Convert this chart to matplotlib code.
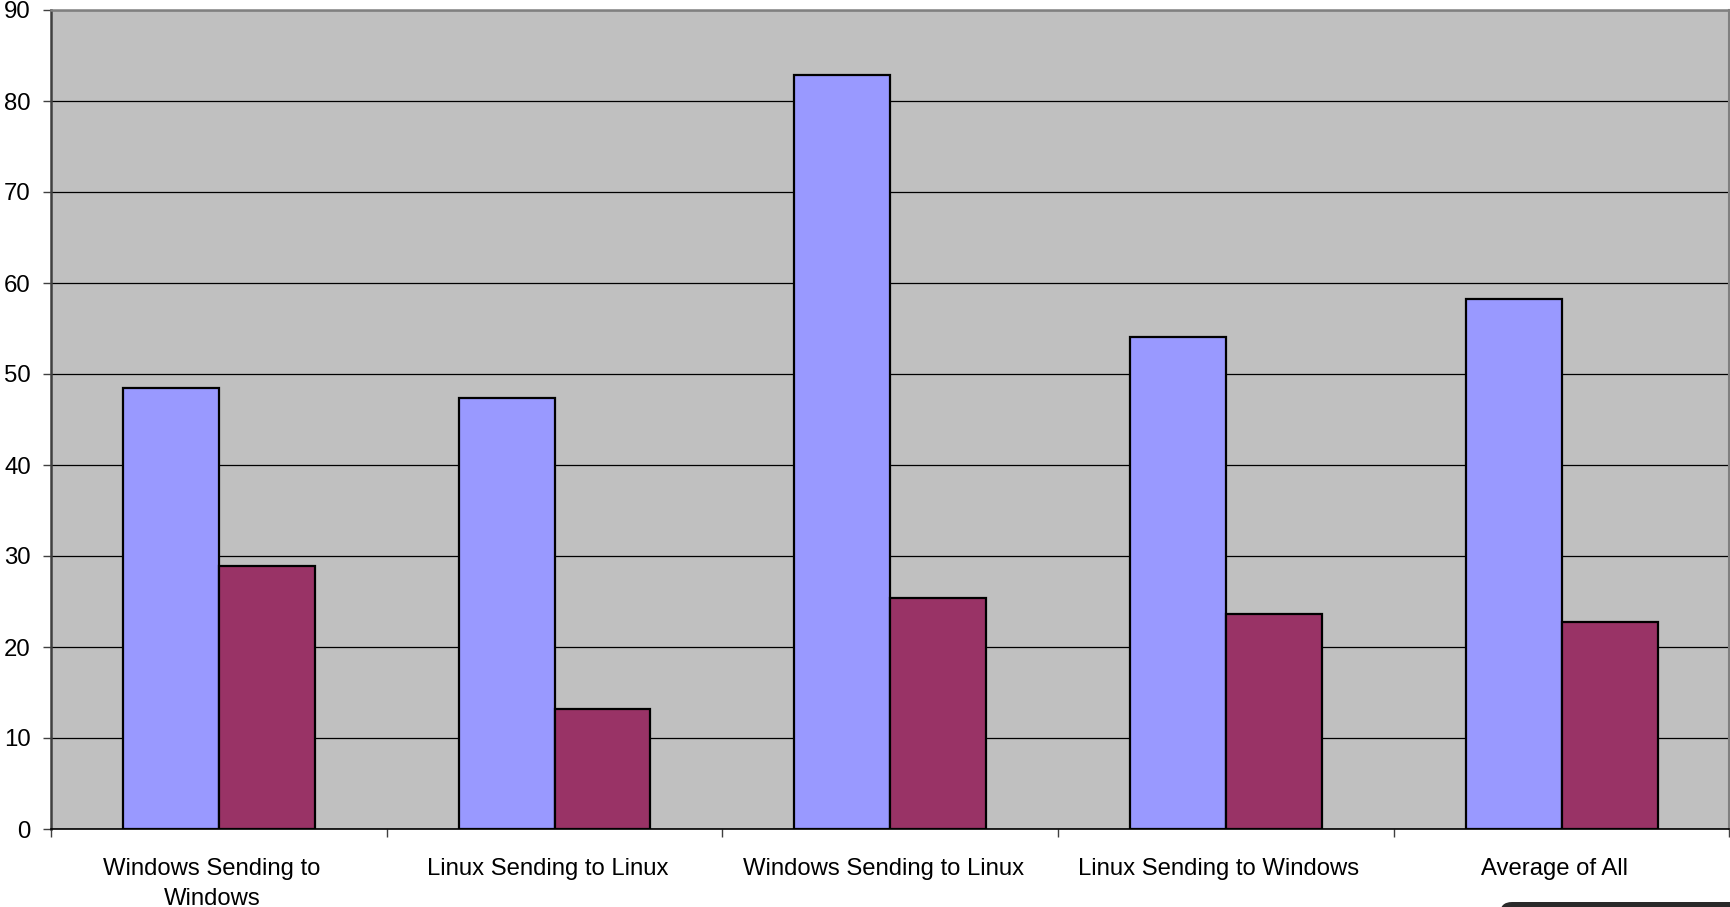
import matplotlib.pyplot as plt
import matplotlib.transforms as mtransforms
from matplotlib.patches import FancyBboxPatch
import numpy as np

# chart data
categories = ['Windows Sending to\nWindows', 'Linux Sending to Linux',
              'Windows Sending to Linux', 'Linux Sending to Windows', 'Average of All']
series_a = [48.5, 47.4, 82.9, 54.1, 58.2]
series_b = [28.9, 13.2, 25.4, 23.6, 22.8]
y_ticks = [0, 10, 20, 30, 40, 50, 60, 70, 80, 90]

plt.rcParams['font.family'] = ['Liberation Sans', 'DejaVu Sans']

W, H = 1731, 907
fig = plt.figure(figsize=(W / 100, H / 100), dpi=100)
ax = fig.add_axes([51 / W, (H - 829) / H, (1729.5 - 51) / W, (829 - 10) / H])
ax.set_facecolor('#C0C0C0')

x = np.arange(len(categories))
bw = 1 / 3.5
ax.bar(x - bw / 2, series_a, bw, color='#9999FF', edgecolor='black', linewidth=1.6, zorder=3)
ax.bar(x + bw / 2, series_b, bw, color='#993366', edgecolor='black', linewidth=1.6, zorder=3)

ax.set_xlim(-0.5, len(categories) - 0.5)
ax.set_ylim(0, 90)
ax.set_yticks(y_ticks)
ax.yaxis.grid(True, color='black', linewidth=0.9, zorder=1)
ax.set_axisbelow(True)
ax.tick_params(axis='y', labelsize=17.3, length=6, width=1, color='#404040', pad=8.5)

# category labels at centres, tick marks at category boundaries
ax.set_xticks(x)
ax.set_xticklabels(categories, fontsize=17.2, linespacing=1.48)
ax.tick_params(axis='x', which='major', length=0, pad=21)
ax.set_xticks(np.arange(len(categories) + 1) - 0.5, minor=True)
ax.tick_params(axis='x', which='minor', length=6, width=1, color='#404040')

# labels sit a little left of the category centre in the original
shift = mtransforms.ScaledTranslation(-7 / 100, 0, fig.dpi_scale_trans)
for lbl in ax.get_xticklabels():
    lbl.set_transform(lbl.get_transform() + shift)

ax.spines['left'].set_color('#404040')
ax.spines['left'].set_linewidth(1.8)
ax.spines['top'].set_color('#808080')
ax.spines['top'].set_linewidth(1.8)
ax.spines['right'].set_color('#808080')
ax.spines['right'].set_linewidth(1.5)
ax.spines['bottom'].set_color('black')
ax.spines['bottom'].set_linewidth(1.2)

# dark rounded shape at the bottom-right corner
fig.patches.append(FancyBboxPatch((1500, -20), 260, 25,
                                  boxstyle='round,pad=0,rounding_size=12',
                                  transform=None, facecolor='#2a2a2a',
                                  edgecolor='none'))

fig.savefig('out.png', dpi=100)
